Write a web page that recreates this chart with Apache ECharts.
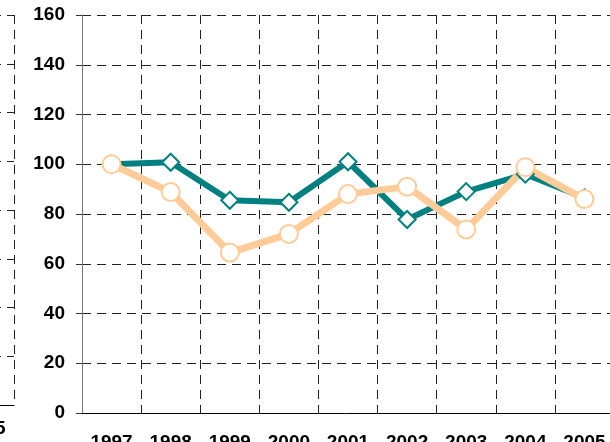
<!DOCTYPE html>
<html>
<head>
<meta charset="utf-8">
<script src="https://cdn.jsdelivr.net/npm/echarts@6/dist/echarts.min.js"></script>
<style>
  html, body { margin: 0; padding: 0; background: #fff; }
  #chart { width: 610px; height: 442px; }
</style>
</head>
<body>
<div id="chart"></div>
<script>
// index values, 1997 = 100
const years = ['1997', '1998', '1999', '2000', '2001', '2002', '2003', '2004', '2005']
const tealValues = [100, 100.8, 85.5, 84.7, 101, 77.8, 89, 96, 86.5]
const peachValues = [100, 88.8, 64.5, 72, 88, 91, 73.8, 98.8, 86]
const yMin = 0
const yMax = 160
const yStep = 20

const labelFont = { fontFamily: 'Liberation Sans, Arial, sans-serif', fontWeight: 'bold', fontSize: 19, color: '#000' }
const dashed = { show: true, lineStyle: { color: '#222', width: 1, type: [9, 6] } }

const chart = echarts.init(document.getElementById('chart'))

chart.setOption({
  animation: false,
  grid: [
    // neighbouring chart, mostly cut off on the left
    { left: -518, top: 15, width: 532, height: 390, outerBoundsMode: 'none', containLabel: false },
    { left: 82, top: 15, width: 532, height: 398, outerBoundsMode: 'none', containLabel: false }
  ],
  xAxis: [
    {
      gridIndex: 0,
      type: 'category',
      data: years,
      boundaryGap: true,
      axisLine: { lineStyle: { color: '#000', width: 1 } },
      axisTick: { length: 4, lineStyle: { color: '#000' } },
      axisLabel: { ...labelFont, margin: 14, interval: 0 },
      splitLine: dashed
    },
    {
      gridIndex: 1,
      type: 'category',
      data: years,
      boundaryGap: true,
      axisLine: { lineStyle: { color: '#000', width: 1 } },
      axisTick: { length: 4, lineStyle: { color: '#000' } },
      axisLabel: { ...labelFont, margin: 20, interval: 0 },
      splitLine: dashed
    }
  ],
  yAxis: [
    {
      gridIndex: 0,
      type: 'value',
      min: yMin,
      max: yMax,
      interval: yStep,
      axisLine: { show: false },
      axisTick: { show: false },
      axisLabel: { show: false },
      splitLine: dashed
    },
    {
      gridIndex: 1,
      type: 'value',
      min: yMin,
      max: yMax,
      interval: yStep,
      axisLine: { show: true, lineStyle: { color: '#777', width: 1 } },
      axisTick: { show: true, length: 6, lineStyle: { color: '#333' } },
      axisLabel: { ...labelFont, margin: 17 },
      splitLine: dashed
    }
  ],
  series: [
    {
      name: 'teal',
      type: 'line',
      xAxisIndex: 1,
      yAxisIndex: 1,
      data: tealValues,
      symbol: 'diamond',
      symbolSize: 17,
      lineStyle: { color: '#008080', width: 6 },
      itemStyle: { color: '#fff', borderColor: '#008080', borderWidth: 2 }
    },
    {
      name: 'peach',
      type: 'line',
      xAxisIndex: 1,
      yAxisIndex: 1,
      data: peachValues,
      symbol: 'circle',
      symbolSize: 18,
      lineStyle: { color: '#FFCC99', width: 7 },
      itemStyle: { color: '#fff', borderColor: '#FFCC99', borderWidth: 2 }
    }
  ]
})
</script>
</body>
</html>
